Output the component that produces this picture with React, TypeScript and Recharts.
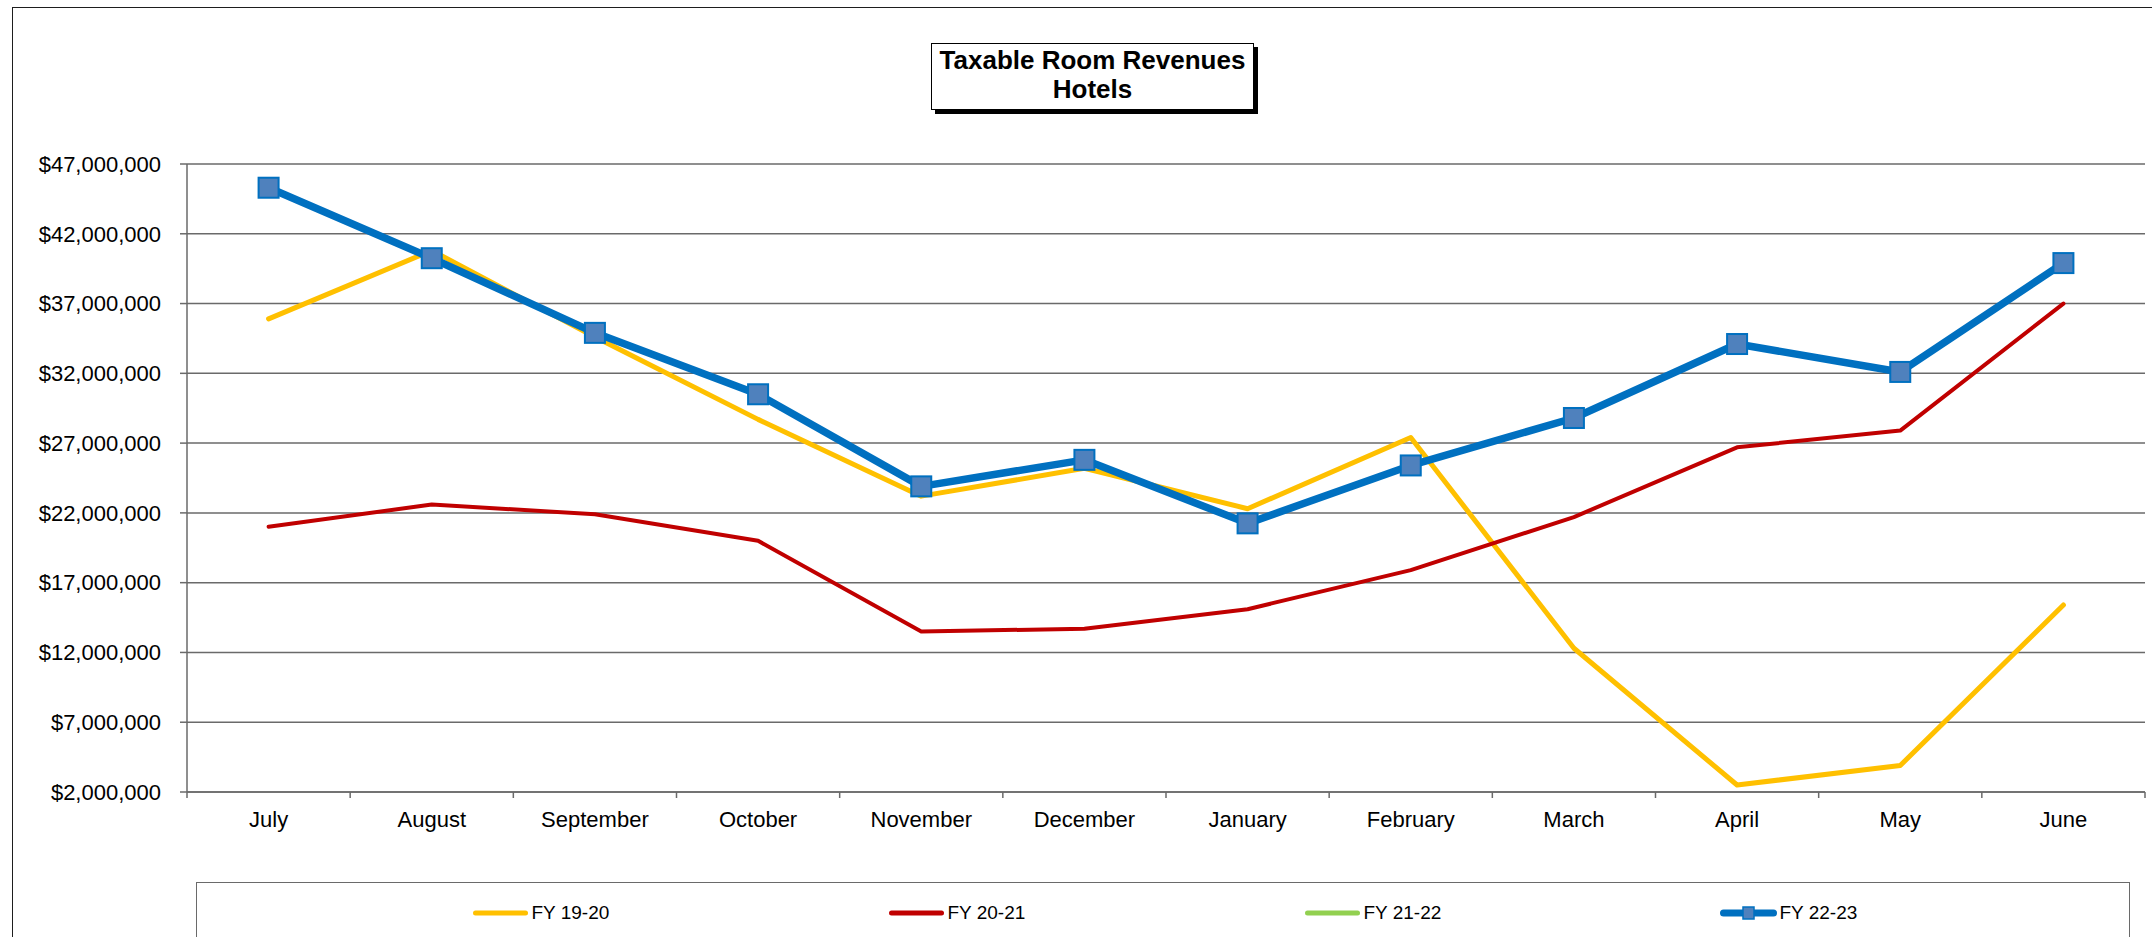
import React from 'react';
import { LineChart, Line, XAxis, YAxis, CartesianGrid, Legend } from 'recharts';

const months = ['July', 'August', 'September', 'October', 'November', 'December', 'January', 'February', 'March', 'April', 'May', 'June'];
const fy1920 = [35900000, 40800000, 34600000, 28700000, 23200000, 25200000, 22300000, 27400000, 12300000, 2500000, 3900000, 15400000];
const fy2021 = [21000000, 22600000, 21900000, 20000000, 13500000, 13700000, 15100000, 17900000, 21700000, 26700000, 27900000, 37000000];
const fy2122: (number | null)[] = [null, null, null, null, null, null, null, null, null, null, null, null];
const fy2223 = [45300000, 40250000, 34900000, 30500000, 23900000, 25800000, 21250000, 25400000, 28800000, 34100000, 32100000, 39900000];
const seriesNames = ['FY 19-20', 'FY 20-21', 'FY 21-22', 'FY 22-23'];
const yTicks = [2000000, 7000000, 12000000, 17000000, 22000000, 27000000, 32000000, 37000000, 42000000, 47000000];
const titleLines = ['Taxable Room Revenues', 'Hotels'];

const data = months.map((m, i) => ({
  month: m,
  fy1920: fy1920[i],
  fy2021: fy2021[i],
  fy2122: fy2122[i],
  fy2223: fy2223[i],
}));

const W = 2152;
const H = 937;
const MARGIN = { top: 164, right: 7, bottom: 105, left: 0 };
const Y_AXIS_W = 187;
const X_AXIS_H = 40;
const PLOT_W = W - MARGIN.left - MARGIN.right - Y_AXIS_W;
const HALF_BAND = PLOT_W / months.length / 2;
const FONT = '"Liberation Sans", Arial, sans-serif';
const GRID = '#6a6a6a';

const COLORS = ['#FFC000', '#C00000', '#92D050', '#0070C0'];
const WIDTHS = [5, 4, 5, 7.5];

const SquareDot = (props: any) => {
  const { cx, cy, index } = props;
  if (cx == null || cy == null) return <g key={`d${index}`} />;
  return (
    <rect key={`d${index}`} x={cx - 10} y={cy - 10} width={20} height={20} fill="#4F81BD" stroke="#0070C0" strokeWidth={2} />
  );
};

const XTick = (props: any) => {
  const { x, y, payload, index } = props;
  const last = index === months.length - 1;
  return (
    <g>
      <line x1={x - HALF_BAND} x2={x - HALF_BAND} y1={y} y2={y + 6} stroke={GRID} strokeWidth={1.5} />
      {last && <line x1={x + HALF_BAND} x2={x + HALF_BAND} y1={y} y2={y + 6} stroke={GRID} strokeWidth={1.5} />}
      <text x={x} y={y + 35} textAnchor="middle" fill="#000" fontSize={22} fontFamily={FONT}>
        {payload.value}
      </text>
    </g>
  );
};

const LegendContent = () => (
  <div
    style={{
      width: 1934,
      height: 80,
      border: `1.5px solid ${GRID}`,
      boxSizing: 'border-box',
      position: 'relative',
      background: '#fff',
      fontFamily: FONT,
    }}
  >
    {seriesNames.map((name, i) => (
      <div
        key={name}
        style={{ position: 'absolute', left: 275 + i * 416 - 1.5, top: 18, height: 24, display: 'flex', alignItems: 'center' }}
      >
        <svg width={60} height={24} style={{ display: 'block' }}>
          <line x1={4.5} x2={54.5} y1={12} y2={12} stroke={COLORS[i]} strokeWidth={i === 3 ? 7 : 5} strokeLinecap="round" />
          {i === 3 && <rect x={24} y={6} width={11} height={12} fill="#4F81BD" stroke="#0070C0" strokeWidth={1.5} />}
        </svg>
        <span style={{ fontSize: 19, color: '#000', marginLeft: 1, whiteSpace: 'nowrap' }}>{name}</span>
      </div>
    ))}
  </div>
);

export default function App() {
  return (
    <div style={{ position: 'absolute', left: 0, top: 0, width: W, height: H, overflow: 'hidden', background: '#fff', fontFamily: FONT }}>
      <div
        style={{
          position: 'absolute',
          left: 12,
          top: 7,
          width: 2300,
          height: 1100,
          border: '1.5px solid #1e1e1e',
          boxSizing: 'border-box',
        }}
      />
      <div style={{ position: 'absolute', left: 0, top: 0 }}>
        <LineChart width={W} height={H} data={data} margin={MARGIN}>
          <CartesianGrid horizontal vertical={false} stroke={GRID} strokeWidth={1.5} />
          <XAxis
            dataKey="month"
            height={X_AXIS_H}
            padding={{ left: HALF_BAND, right: HALF_BAND }}
            axisLine={{ stroke: GRID, strokeWidth: 1.5 }}
            tickLine={false}
            tickSize={0}
            tickMargin={0}
            interval={0}
            tick={<XTick />}
          />
          <YAxis
            type="number"
            domain={[2000000, 47000000]}
            ticks={yTicks}
            width={Y_AXIS_W}
            tickSize={7}
            tickMargin={19}
            interval={0}
            axisLine={{ stroke: GRID, strokeWidth: 1.5 }}
            tickLine={{ stroke: GRID, strokeWidth: 1.5 }}
            tick={{ fill: '#000', fontSize: 22, fontFamily: FONT }}
            tickFormatter={(v: number) => '$' + v.toLocaleString('en-US')}
          />
          <Legend
            layout="horizontal"
            verticalAlign="middle"
            align="center"
            wrapperStyle={{ position: 'absolute', left: 196, top: 882, width: 1934, height: 80 }}
            content={<LegendContent />}
          />
          <Line dataKey="fy1920" name={seriesNames[0]} stroke={COLORS[0]} strokeWidth={WIDTHS[0]} dot={false} activeDot={false} isAnimationActive={false} strokeLinecap="round" strokeLinejoin="round" />
          <Line dataKey="fy2021" name={seriesNames[1]} stroke={COLORS[1]} strokeWidth={WIDTHS[1]} dot={false} activeDot={false} isAnimationActive={false} strokeLinecap="round" strokeLinejoin="round" />
          <Line dataKey="fy2122" name={seriesNames[2]} stroke={COLORS[2]} strokeWidth={WIDTHS[2]} dot={false} activeDot={false} isAnimationActive={false} />
          <Line dataKey="fy2223" name={seriesNames[3]} stroke={COLORS[3]} strokeWidth={WIDTHS[3]} dot={<SquareDot />} activeDot={false} isAnimationActive={false} strokeLinejoin="round" />
        </LineChart>
      </div>
      <div
        style={{
          position: 'absolute',
          left: 931,
          top: 43,
          width: 323,
          height: 67,
          boxSizing: 'border-box',
          border: '1px solid #000',
          boxShadow: '4px 4px 0 #000',
          background: '#fff',
          textAlign: 'center',
          fontWeight: 'bold',
          fontSize: 26,
          lineHeight: '29px',
          paddingTop: 2,
          color: '#000',
          whiteSpace: 'nowrap',
        }}
      >
        {titleLines.map((t) => (
          <div key={t}>{t}</div>
        ))}
      </div>
    </div>
  );
}
